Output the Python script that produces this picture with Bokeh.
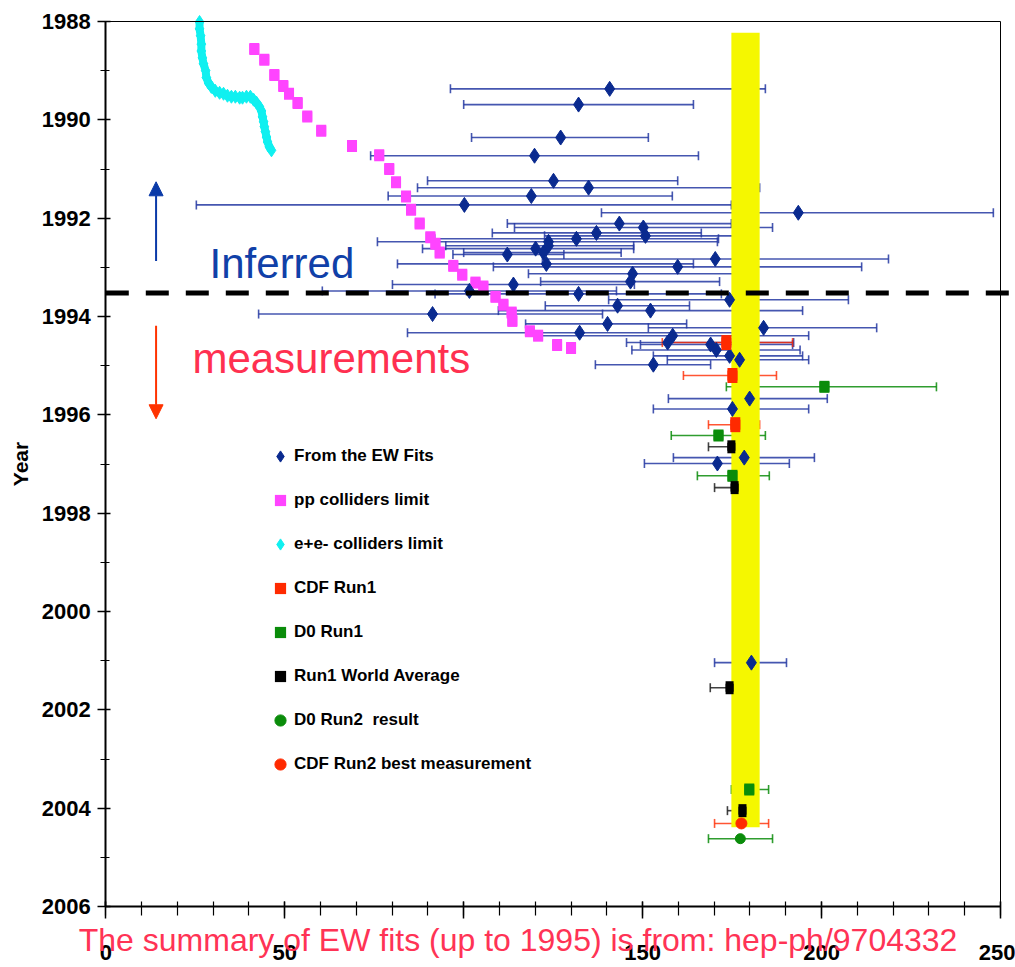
from bokeh.plotting import figure
from bokeh.models import (ColumnDataSource, Range1d, Whisker, TeeHead, Label, LinearAxis,
                          Arrow, NormalHead, Legend, LegendItem, SingleIntervalTicker, FixedTicker)
from bokeh.embed import file_html
from bokeh.resources import INLINE

# ---------------- data ----------------
# From the EW fits (inferred top mass, year of the fit, error-bar ends)
ew_mass = [140.8, 132.1, 127.1, 119.8, 125.1, 134.9, 118.9, 100.2, 193.5, 143.5,
           150.2, 150.8, 137.1, 131.5, 123.7, 123.7, 112.2, 120.1, 122.3, 123.1,
           159.8, 170.3, 147.2, 146.6, 113.9, 101.6, 132.1, 174.3, 143.0, 152.2,
           91.3, 140.2, 183.8, 132.4, 158.4, 157.0, 169.0, 170.6, 174.3, 177.1,
           153.0, 179.9, 175.1, 178.4, 170.9, 180.4]
ew_year = [1989.37, 1989.69, 1990.36, 1990.73, 1991.24, 1991.38, 1991.55, 1991.73, 1991.89, 1992.11,
           1992.19, 1992.36, 1992.30, 1992.42, 1992.48, 1992.56, 1992.74, 1992.62, 1992.70, 1992.93,
           1992.99, 1992.83, 1993.13, 1993.29, 1993.35, 1993.48, 1993.54, 1993.66, 1993.78, 1993.88,
           1993.95, 1994.15, 1994.23, 1994.33, 1994.39, 1994.53, 1994.57, 1994.68, 1994.80, 1994.88,
           1994.98, 1995.67, 1995.88, 1996.87, 1996.99, 2001.04]
ew_lo = [96.3, 100.0, 102.2, 74.0, 89.9, 87.1, 78.9, 25.3, 138.5, 112.2,
         114.2, 122.6, 108.0, 91.9, 75.9, 95.0, 97.0, 88.5, 100.0, 81.5,
         108.3, 122.0, 118.1, 121.5, 80.1, 60.5, 92.0, 140.5, 122.8, 109.7,
         42.7, 117.3, 151.6, 84.3, 120.3, 145.5, 149.4, 147.0, 153.0, 156.9,
         136.8, 157.2, 153.0, 158.6, 150.5, 170.1]
ew_hi = [184.3, 164.2, 151.6, 165.6, 159.8, 182.7, 158.3, 174.8, 248.0, 174.8,
         186.3, 179.0, 166.4, 171.2, 170.9, 147.5, 128.0, 147.5, 144.0, 164.2,
         211.2, 218.7, 175.7, 171.5, 147.7, 142.7, 172.0, 207.5, 163.1, 194.7,
         138.8, 162.3, 215.4, 179.9, 196.4, 192.2, 191.9, 194.0, 194.7, 196.4,
         169.0, 201.6, 196.4, 198.0, 191.0, 190.2]

# p-pbar colliders lower limit
pp_mass = [41.5, 44.3, 47.1, 49.6, 51.2, 53.6, 56.3, 60.2, 68.8, 76.4,
           79.2, 81.1, 83.9, 85.3, 87.7, 90.7, 92.1, 93.3, 97.1, 99.6,
           103.3, 105.5, 108.9, 111.1, 113.4, 113.6, 118.5, 120.8, 126.1, 130.0]
pp_year = [1988.56, 1988.78, 1989.09, 1989.31, 1989.47, 1989.66, 1989.93, 1990.22, 1990.53, 1990.72,
           1991.00, 1991.27, 1991.56, 1991.83, 1992.11, 1992.39, 1992.52, 1992.70, 1992.97, 1993.15,
           1993.31, 1993.39, 1993.60, 1993.76, 1993.92, 1994.09, 1994.30, 1994.39, 1994.58, 1994.64]

# e+e- colliders lower limit
ee_mass = [26.2, 26.2, 26.5, 26.7, 26.7, 27.0, 27.3, 27.9, 28.1, 28.7, 29.5, 30.6, 31.8, 32.9,
           34.0, 35.1, 36.2, 37.4, 38.2, 39.3, 40.4, 41.3, 42.1, 42.9, 43.5, 43.8, 44.1, 44.3,
           44.6, 44.9, 45.2, 45.7, 46.3]
ee_year = [1988.01, 1988.15, 1988.29, 1988.46, 1988.60, 1988.74, 1988.86, 1989.00, 1989.14, 1989.25,
           1989.33, 1989.41, 1989.45, 1989.47, 1989.51, 1989.53, 1989.53, 1989.55, 1989.55, 1989.53,
           1989.53, 1989.59, 1989.65, 1989.73, 1989.82, 1989.94, 1990.04, 1990.14, 1990.24, 1990.35,
           1990.45, 1990.55, 1990.62]

# CDF Run1
cdf1_mass = [173.4, 175.1, 175.9]
cdf1_year = [1994.53, 1995.20, 1996.20]
cdf1_lo = [155.5, 161.4, 168.4]
cdf1_hi = [191.9, 187.4, 182.7]

# D0 Run1
d01_mass = [200.8, 171.2, 175.1, 179.8]
d01_year = [1995.43, 1996.42, 1997.24, 2003.62]
d01_lo = [173.4, 158.0, 165.3, 174.8]
d01_hi = [232.1, 184.3, 185.4, 185.2]

# Run1 world average
wa_mass = [174.8, 175.7, 174.3, 177.9]
wa_year = [1996.65, 1997.48, 2001.55, 2004.05]
wa_lo = [168.4, 170.1, 168.9, 173.7]
wa_hi = [180.7, 181.0, 179.6, 182.1]

# D0 Run2 result
d02_mass = [177.3]
d02_year = [2004.62]
d02_lo = [168.4]
d02_hi = [186.3]

# CDF Run2 best measurement
cdf2_mass = [177.6]
cdf2_year = [2004.31]
cdf2_lo = [170.1]
cdf2_hi = [185.2]

# current world-average band
band_left = [174.8]
band_right = [182.7]
band_top = [1988.23]
band_bottom = [2004.39]

# axis limits and the visible area around them (room for labels and the footer note)
x_min, x_max = 0, 250
y_min, y_max = 1988, 2006
x_view = (-29.42, 254.19)
y_view = (2007.24, 1987.573)

# boundary between inferred and measured, and arrows
split_year = 1993.52
arrow_x = 14.05
arrow_up = (1992.87, 1991.26)
arrow_down = (1994.19, 1996.08)

legend_labels = ["From the EW Fits", "pp colliders limit", "e+e- colliders limit", "CDF Run1",
                 "D0 Run1", "Run1 World Average", "D0 Run2  result", "CDF Run2 best measurement"]
footer = "The summary of EW fits (up to 1995) is from: hep-ph/9704332"

# ---------------- styles ----------------
SANS = "'Liberation Sans', Arial, sans-serif"
NAVY = "#0a2a8f"
BAR_BLUE = "#2538a2"
PINK = "#ff44ff"
CYAN = "#10f0f0"
RED = "#ff2a00"
GREEN = "#0a8c0a"
YELLOW = "#f5f700"

p = figure(width=1015, height=967, output_backend="svg", toolbar_location=None,
           x_range=Range1d(*x_view), y_range=Range1d(*y_view),
           min_border_left=0, min_border_right=0, min_border_top=0, min_border_bottom=0)
p.grid.visible = False
p.background_fill_color = "white"
p.border_fill_color = "white"
p.outline_line_color = None

# band
p.quad(left=band_left, right=band_right, top=band_top, bottom=band_bottom,
       fill_color=YELLOW, line_color=None)

# limits
p.line(ee_mass, ee_year, line_color=CYAN, line_width=8)
ee_r = p.scatter(ee_mass, ee_year, marker="diamond", size=13, fill_color=CYAN, line_color=CYAN)
pp_r = p.scatter(pp_mass, pp_year, marker="square", size=10, fill_color=PINK, line_color=None)
p.rect(pp_mass, pp_year, width=10, height=12, width_units="screen", height_units="screen",
       fill_color=PINK, line_color=None)


def bars(ys, lo, hi, color, alpha=0.85):
    src = ColumnDataSource(dict(y=ys, lo=lo, hi=hi))
    w = Whisker(source=src, base="y", lower="lo", upper="hi", dimension="width",
                line_color=color, line_width=1.6, line_alpha=alpha,
                upper_head=TeeHead(size=9, line_color=color, line_width=1.6, line_alpha=alpha),
                lower_head=TeeHead(size=9, line_color=color, line_width=1.6, line_alpha=alpha))
    p.add_layout(w)


bars(ew_year, ew_lo, ew_hi, BAR_BLUE)
bars(cdf1_year, cdf1_lo, cdf1_hi, RED, 0.8)
bars(d01_year, d01_lo, d01_hi, GREEN, 0.85)
bars(wa_year, wa_lo, wa_hi, "#202020", 0.85)
bars(d02_year, d02_lo, d02_hi, GREEN, 0.85)
bars(cdf2_year, cdf2_lo, cdf2_hi, RED, 0.8)

ew_r = p.scatter(ew_mass, ew_year, marker="diamond", size=15, fill_color=NAVY, line_color=NAVY)
cdf1_r = p.scatter(cdf1_mass, cdf1_year, marker="square", size=10, fill_color=RED, line_color=None)
p.rect(cdf1_mass, cdf1_year, width=10, height=15, width_units="screen", height_units="screen",
       fill_color=RED, line_color=None)
d01_r = p.scatter(d01_mass, d01_year, marker="square", size=10, fill_color=GREEN, line_color=None)
p.rect(d01_mass, d01_year, width=10, height=12, width_units="screen", height_units="screen",
       fill_color=GREEN, line_color=None)
wa_r = p.scatter(wa_mass, wa_year, marker="square", size=8, fill_color="black", line_color=None)
p.rect(wa_mass, wa_year, width=8, height=13, width_units="screen", height_units="screen",
       fill_color="black", line_color=None)
cdf2_r = p.scatter(cdf2_mass, cdf2_year, marker="circle", size=11, fill_color=RED, line_color=RED)
d02_r = p.scatter(d02_mass, d02_year, marker="circle", size=10, fill_color=GREEN, line_color=GREEN)

# split line (runs from the y axis to the right edge)
p.segment(x0=[x_min], y0=[split_year], x1=[x_view[1]], y1=[split_year],
          line_color="black", line_width=5, line_dash="23 17")

# arrows
p.add_layout(Arrow(end=NormalHead(size=14, fill_color="#0a3aa8", line_color="#0a3aa8"),
                   x_start=arrow_x, y_start=arrow_up[0], x_end=arrow_x, y_end=arrow_up[1],
                   line_color="#0a3aa8", line_width=2))
p.add_layout(Arrow(end=NormalHead(size=14, fill_color="#ff3300", line_color="#ff3300"),
                   x_start=arrow_x, y_start=arrow_down[0], x_end=arrow_x, y_end=arrow_down[1],
                   line_color="#ff3300", line_width=2))

p.add_layout(Label(x=29.0, y=1992.93, text="Inferred", text_font=SANS, text_font_size="42px",
                   text_color="#1040a8", text_baseline="alphabetic"))
p.add_layout(Label(x=24.2, y=1994.86, text="measurements", text_font=SANS, text_font_size="42px",
                   text_color="#ff3050", text_baseline="alphabetic"))
p.add_layout(Label(x=115.2, y=2006.69, text=footer,
                   text_font=SANS, text_font_size="32px", text_color="#ff3355",
                   text_align="center", text_baseline="alphabetic"))

# legend
renders = [ew_r, pp_r, ee_r, cdf1_r, d01_r, wa_r, d02_r, cdf2_r]
legend = Legend(items=[LegendItem(label=l, renderers=[r]) for l, r in zip(legend_labels, renders)],
                location=(266, 189), padding=0, margin=0, spacing=16,
                glyph_width=28, glyph_height=28, label_height=28, label_standoff=0,
                label_text_font=SANS, label_text_font_style="bold", label_text_font_size="17px",
                label_text_color="black", border_line_color=None, background_fill_alpha=0)
p.add_layout(legend)

# axes (pinned to the data limits)
xa = p.xaxis[0]
xa.fixed_location = y_max
xa.bounds = (x_min, x_max)
xa.ticker = SingleIntervalTicker(interval=50, num_minor_ticks=5)
xa.major_label_overrides = {100: ""}
ya = p.yaxis[0]
ya.fixed_location = x_min
ya.bounds = (y_min, y_max)
ya.ticker = SingleIntervalTicker(interval=2, num_minor_ticks=2)
for ax in (xa, ya):
    ax.axis_line_width = 2
    ax.axis_line_color = "black"
    ax.major_tick_line_width = 1.5
    ax.minor_tick_line_width = 1.2
    ax.major_label_text_font = SANS
    ax.major_label_text_font_style = "bold"
    ax.major_label_text_font_size = "22px"
    ax.major_label_text_color = "black"
xa.major_tick_in = 5
xa.major_tick_out = 12
xa.minor_tick_in = 5
xa.minor_tick_out = 9
xa.major_label_standoff = 26
ya.major_tick_in = 5
ya.major_tick_out = 8
ya.minor_tick_in = 4
ya.minor_tick_out = 5
ya.major_label_standoff = 7
ya.axis_label = "Year"
ya.axis_label_text_font = SANS
ya.axis_label_text_font_style = "bold"
ya.axis_label_text_font_size = "21px"
ya.axis_label_text_color = "black"
ya.axis_label_standoff = 7

# right and top frame edges
edge = dict(ticker=FixedTicker(ticks=[]), major_label_text_font_size="0px",
            axis_line_width=1, axis_line_color="black",
            major_tick_in=0, major_tick_out=0, minor_tick_in=0, minor_tick_out=0)
p.add_layout(LinearAxis(fixed_location=x_max, bounds=(y_min, y_max), **edge), "right")
p.add_layout(LinearAxis(fixed_location=y_min, bounds=(x_min, x_max), **edge), "above")

open("out.html", "w").write(file_html(p, INLINE))
